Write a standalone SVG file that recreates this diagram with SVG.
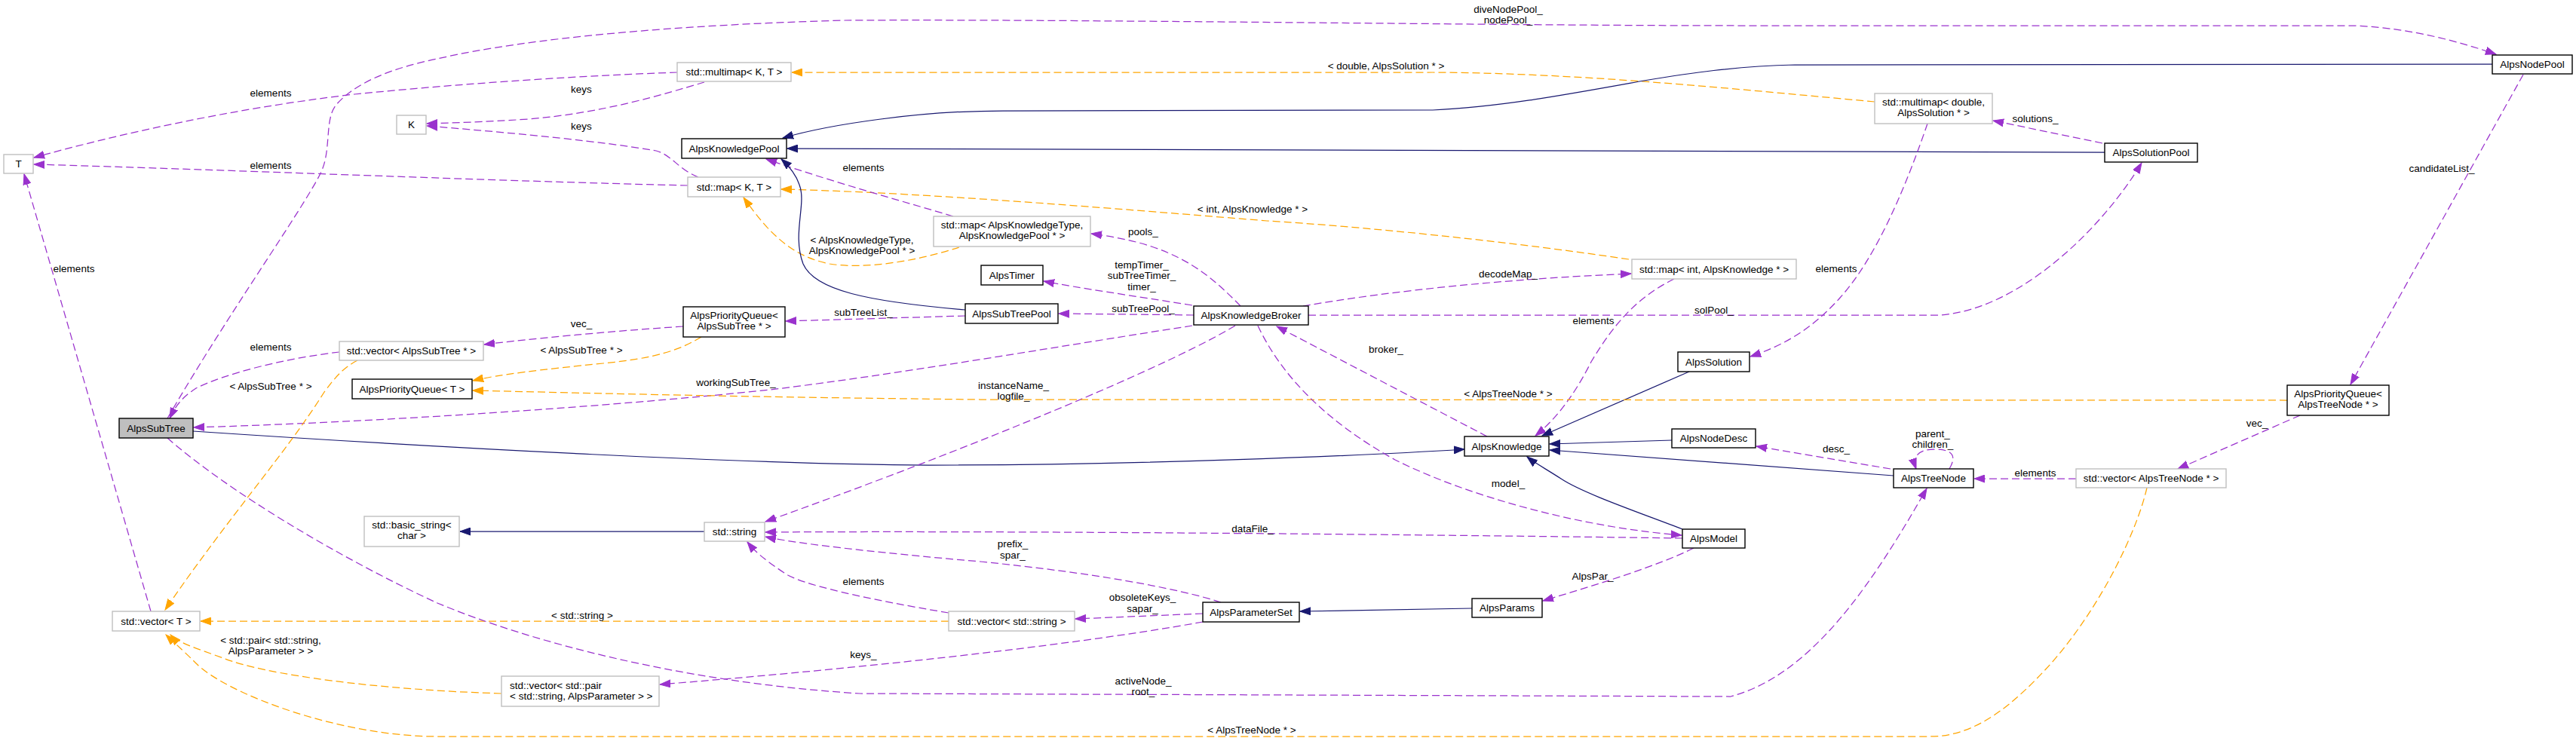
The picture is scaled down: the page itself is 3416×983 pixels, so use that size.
<svg xmlns="http://www.w3.org/2000/svg" width="3416" height="983" viewBox="0 0 3416 983">
<style>
text{font-family:"Liberation Sans",Arial,Helvetica,sans-serif;font-size:13.5px;fill:#000;text-anchor:middle}
.nb rect{fill:#fff;stroke:#000;stroke-width:1.4}
.ng rect{fill:#fff;stroke:#bfbfbf;stroke-width:1.4}
.sel rect{fill:#bfbfbf;stroke:#000;stroke-width:1.4}
#edges path{fill:none;stroke-width:1.25}
#edges .p{stroke:#9a32cd;stroke-dasharray:10,5;marker-end:url(#ap)}
#edges .o{stroke:#ffa500;stroke-dasharray:10,5;marker-end:url(#ao)}
#edges .b{stroke:#191970;marker-end:url(#ab)}
</style>
<defs>
<marker id="ap" markerWidth="15" markerHeight="11" refX="14" refY="5.5" orient="auto" markerUnits="userSpaceOnUse"><path d="M0,0.5 L14,5.5 L0,10.5 z" fill="#9a32cd" stroke="#9a32cd" stroke-width="1"/></marker>
<marker id="ao" markerWidth="15" markerHeight="11" refX="14" refY="5.5" orient="auto" markerUnits="userSpaceOnUse"><path d="M0,0.5 L14,5.5 L0,10.5 z" fill="#ffa500" stroke="#ffa500" stroke-width="1"/></marker>
<marker id="ab" markerWidth="15" markerHeight="11" refX="14" refY="5.5" orient="auto" markerUnits="userSpaceOnUse"><path d="M0,0.5 L14,5.5 L0,10.5 z" fill="#191970" stroke="#191970" stroke-width="1"/></marker>
</defs>
<rect x="0" y="0" width="3416" height="983" fill="#fff"/>

<g id="edges">
<path class="p" d="M898,96 C780,100 620,110 470,125 C300,145 150,180 45,209"/>
<path class="p" d="M912,246 C650,240 300,225 45,218"/>
<path class="p" d="M934,109 C880,125 800,150 700,158 C640,162 600,163 566,164"/>
<path class="p" d="M926,235 C900,225 890,205 870,200 C800,188 700,178 566,167"/>
<path class="o" d="M2486,135 C2300,118 2100,97 1900,96 L1050,96"/>
<path class="o" d="M2160,344 C2000,320 1800,300 1680,293 C1400,270 1200,255 1036,251"/>
<path class="o" d="M1272,328 C1220,345 1150,358 1100,350 C1050,340 1020,310 986,262"/>
<path class="p" d="M1264,287 C1180,262 1100,240 1016,211"/>
<path class="b" d="M1280,411 C1150,400 1080,385 1065,350 C1050,310 1070,270 1060,245 C1055,230 1046,220 1036,211"/>
<path class="b" d="M3305,85 L2380,86 C2300,88 2240,97 2180,107 C2080,125 1990,142 1900,146 L1330,147 C1220,147 1100,165 1038,183"/>
<path class="b" d="M2791,202 L1044,197"/>
<path class="p" d="M2788,190 L2643,160"/>
<path class="p" d="M2556,164 C2530,240 2490,340 2440,395 C2400,440 2360,460 2321,473"/>
<path class="p" d="M1735,418 L2573,418 C2680,410 2790,300 2840,216"/>
<path class="p" d="M222,555 C300,420 400,280 425,230 C440,200 430,160 445,140 C470,110 520,90 580,78 C700,50 900,33 1120,27 C1400,25 2000,34 2300,34 L3124,34 C3200,38 3260,55 3310,72"/>
<path class="p" d="M1581,432 C1400,460 1200,495 1022,517 C800,540 500,560 257,567"/>
<path class="b" d="M256,572 C600,595 1000,616 1231,617 C1500,617 1800,605 1942,596"/>
<path class="p" d="M906,433 C800,440 700,450 642,457"/>
<path class="o" d="M930,447 C900,465 870,475 800,482 C720,490 660,497 627,505"/>
<path class="o" d="M474,478 C455,488 445,500 430,520 C380,600 300,690 219,809"/>
<path class="p" d="M1280,419 L1042,426"/>
<path class="p" d="M1583,418 L1404,416"/>
<path class="p" d="M1581,405 C1500,392 1430,382 1384,373"/>
<path class="p" d="M1645,406 C1610,370 1580,345 1527,327 C1500,318 1470,313 1447,310"/>
<path class="p" d="M1728,406 C1850,385 2000,370 2163,363"/>
<path class="p" d="M2220,370 C2170,395 2140,430 2110,480 C2090,520 2065,555 2036,578"/>
<path class="p" d="M1972,579 L1693,433"/>
<path class="b" d="M2240,493 L2045,578"/>
<path class="b" d="M2217,584 L2055,589"/>
<path class="b" d="M2511,631 L2055,597"/>
<path class="b" d="M2231,702 C2180,682 2100,655 2070,635 C2050,622 2035,614 2025,606"/>
<path class="p" d="M1638,432 C1550,485 1300,590 1015,692"/>
<path class="o" d="M3033,531 L1300,530 C1000,527 800,522 627,518"/>
<path class="p" d="M2231,714 C1800,708 1300,704 1015,706"/>
<path class="p" d="M1668,432 C1700,500 1760,560 1850,610 C1950,660 2100,700 2230,710"/>
<path class="p" d="M1619,799 C1560,780 1450,760 1300,745 C1150,732 1050,720 1015,712"/>
<path class="p" d="M1258,813 C1150,795 1060,775 1040,760 C1010,740 1000,730 991,719"/>
<path class="p" d="M1595,814 L1426,821"/>
<path class="p" d="M1595,825 C1400,860 1100,890 875,908"/>
<path class="o" d="M1258,824 L266,824"/>
<path class="o" d="M665,920 C500,915 350,895 296,873 C260,860 235,852 226,842"/>
<path class="o" d="M2847,647 C2835,700 2790,800 2720,880 C2670,935 2620,977 2560,977 L580,977 C450,977 300,920 260,880 C240,860 228,850 220,842"/>
<path class="p" d="M222,581 C300,650 450,740 580,800 C700,850 900,905 1140,920 L2295,924 C2400,896 2480,780 2555,648"/>
<path class="p" d="M2246,727 C2200,750 2120,775 2046,797"/>
<path class="b" d="M1952,807 L1724,811"/>
<path class="b" d="M934,705 L610,705"/>
<path class="p" d="M2507,622 L2329,592"/>
<path class="p" d="M2585,622 C2595,605 2590,596 2565,596 C2545,596 2535,605 2541,622"/>
<path class="p" d="M2753,635 L2618,635"/>
<path class="p" d="M3050,551 L2888,622"/>
<path class="p" d="M3346,99 L3117,510"/>
<path class="p" d="M200,811 L32,231"/>
<path class="p" d="M450,467 C380,475 300,495 260,515 C240,528 232,540 225,555"/>
</g>

<g id="labels">
<text x="359" y="128">elements</text>
<text x="359" y="224">elements</text>
<text x="771" y="123">keys</text>
<text x="771" y="172">keys</text>
<text x="1838" y="92">&lt; double, AlpsSolution * &gt;</text>
<text x="1661" y="282">&lt; int, AlpsKnowledge * &gt;</text>
<text x="1143" y="323">&lt; AlpsKnowledgeType,<tspan x="1143" dy="14.4">AlpsKnowledgePool * &gt;</tspan></text>
<text x="1145" y="227">elements</text>
<text x="2699" y="162">solutions_</text>
<text x="2435" y="361">elements</text>
<text x="2273" y="416">solPool_</text>
<text x="2000" y="17">diveNodePool_<tspan x="2000" dy="14.4">nodePool_</tspan></text>
<text x="976" y="512">workingSubTree_</text>
<text x="771" y="434">vec_</text>
<text x="771" y="469">&lt; AlpsSubTree * &gt;</text>
<text x="359" y="517">&lt; AlpsSubTree * &gt;</text>
<text x="1145" y="419">subTreeList_</text>
<text x="1516" y="414">subTreePool_</text>
<text x="1514" y="356">tempTimer_<tspan x="1514" dy="14.3">subTreeTimer_</tspan><tspan x="1514" dy="14.3">timer_</tspan></text>
<text x="1516" y="312">pools_</text>
<text x="2000" y="368">decodeMap_</text>
<text x="2113" y="430">elements</text>
<text x="1838" y="468">broker_</text>
<text x="1344" y="516">instanceName_<tspan x="1344" dy="14">logfile_</tspan></text>
<text x="2000" y="527">&lt; AlpsTreeNode * &gt;</text>
<text x="1661" y="706">dataFile_</text>
<text x="2000" y="646">model_</text>
<text x="1343" y="726">prefix_<tspan x="1343" dy="15">spar_</tspan></text>
<text x="1145" y="776">elements</text>
<text x="1515" y="797">obsoleteKeys_<tspan x="1515" dy="15">sapar_</tspan></text>
<text x="1145" y="873">keys_</text>
<text x="772" y="821">&lt; std::string &gt;</text>
<text x="359" y="854">&lt; std::pair&lt; std::string,<tspan x="359" dy="14.4">AlpsParameter &gt; &gt;</tspan></text>
<text x="1660" y="973">&lt; AlpsTreeNode * &gt;</text>
<text x="1516" y="908">activeNode_<tspan x="1516" dy="14">root_</tspan></text>
<text x="2112" y="769">AlpsPar_</text>
<text x="2435" y="600">desc_</text>
<text x="2563" y="580">parent_<tspan x="2563" dy="13.7">children_</tspan></text>
<text x="2699" y="632">elements</text>
<text x="2993" y="566">vec_</text>
<text x="3238" y="228">candidateList_</text>
<text x="98" y="361">elements</text>
<text x="359" y="465">elements</text>
</g>

<g id="n_T" class="ng"><rect x="5" y="205" width="39" height="25"/><text x="24.5" y="222">T</text></g>
<g id="n_K" class="ng"><rect x="526" y="153" width="39" height="25"/><text x="545.5" y="170">K</text></g>
<g id="n_multimapKT" class="ng"><rect x="898" y="83" width="151" height="25"/><text x="973.5" y="100">std::multimap&lt; K, T &gt;</text></g>
<g id="n_KnowledgePool" class="nb"><rect x="904" y="184" width="139" height="26"/><text x="973.5" y="201.7">AlpsKnowledgePool</text></g>
<g id="n_mapKT" class="ng"><rect x="912" y="235" width="123" height="26"/><text x="973.5" y="252.7">std::map&lt; K, T &gt;</text></g>
<g id="n_vecSubTree" class="ng"><rect x="450" y="453" width="191" height="25"/><text x="545.5" y="470">std::vector&lt; AlpsSubTree * &gt;</text></g>
<g id="n_PQSubTree" class="nb"><rect x="906" y="407" width="135" height="40"/><text x="973.5" y="423">AlpsPriorityQueue&lt;<tspan x="973.5" dy="14">AlpsSubTree * &gt;</tspan></text></g>
<g id="n_mapKType" class="ng"><rect x="1238" y="287" width="208" height="40"/><text x="1342" y="303">std::map&lt; AlpsKnowledgeType,<tspan x="1342" dy="14">AlpsKnowledgePool * &gt;</tspan></text></g>
<g id="n_Timer" class="nb"><rect x="1301" y="352" width="82" height="26"/><text x="1342" y="369.7">AlpsTimer</text></g>
<g id="n_SubTreePool" class="nb"><rect x="1280" y="403" width="123" height="26"/><text x="1341.5" y="420.7">AlpsSubTreePool</text></g>
<g id="n_Broker" class="nb"><rect x="1583" y="406" width="152" height="25"/><text x="1659" y="423">AlpsKnowledgeBroker</text></g>
<g id="n_mapInt" class="ng"><rect x="2164" y="344" width="218" height="26"/><text x="2273" y="361.7">std::map&lt; int, AlpsKnowledge * &gt;</text></g>
<g id="n_Solution" class="nb"><rect x="2225" y="467" width="95" height="26"/><text x="2272.5" y="484.7">AlpsSolution</text></g>
<g id="n_multimapDouble" class="ng"><rect x="2486" y="124" width="156" height="40"/><text x="2564" y="140">std::multimap&lt; double,<tspan x="2564" dy="14">AlpsSolution * &gt;</tspan></text></g>
<g id="n_SolutionPool" class="nb"><rect x="2791" y="190" width="123" height="25"/><text x="2852.5" y="207">AlpsSolutionPool</text></g>
<g id="n_NodePool" class="nb"><rect x="3305" y="73" width="106" height="25"/><text x="3358" y="90">AlpsNodePool</text></g>
<g id="n_SubTree" class="sel"><rect x="158" y="555" width="98" height="26"/><text x="207" y="572.7">AlpsSubTree</text></g>
<g id="n_vecT" class="ng"><rect x="149" y="811" width="116" height="26"/><text x="207" y="828.7">std::vector&lt; T &gt;</text></g>
<g id="n_PQT" class="nb"><rect x="467" y="503" width="159" height="26"/><text x="546.5" y="520.7">AlpsPriorityQueue&lt; T &gt;</text></g>
<g id="n_basicString" class="ng"><rect x="483" y="685" width="126" height="40"/><text x="546" y="701">std::basic_string&lt;<tspan x="546" dy="14">char &gt;</tspan></text></g>
<g id="n_string" class="ng"><rect x="934" y="693" width="80" height="25"/><text x="974" y="710">std::string</text></g>
<g id="n_vecPair" class="ng"><rect x="665" y="897" width="209" height="40"/><text x="676" y="913.7" style="text-anchor:start">std::vector&lt; std::pair<tspan x="676" dy="14.3">&lt; std::string, AlpsParameter &gt; &gt;</tspan></text></g>
<g id="n_vecString" class="ng"><rect x="1258" y="811" width="167" height="26"/><text x="1341.5" y="828.7">std::vector&lt; std::string &gt;</text></g>
<g id="n_ParameterSet" class="nb"><rect x="1595" y="799" width="128" height="26"/><text x="1659" y="816.7">AlpsParameterSet</text></g>
<g id="n_Knowledge" class="nb"><rect x="1942" y="579" width="112" height="26"/><text x="1998" y="596.7">AlpsKnowledge</text></g>
<g id="n_Params" class="nb"><rect x="1952" y="794" width="93" height="25"/><text x="1998.5" y="811">AlpsParams</text></g>
<g id="n_Model" class="nb"><rect x="2231" y="702" width="83" height="25"/><text x="2272.5" y="719">AlpsModel</text></g>
<g id="n_NodeDesc" class="nb"><rect x="2217" y="569" width="111" height="25"/><text x="2272.5" y="586">AlpsNodeDesc</text></g>
<g id="n_TreeNode" class="nb"><rect x="2511" y="622" width="106" height="25"/><text x="2564" y="639">AlpsTreeNode</text></g>
<g id="n_vecTreeNode" class="ng"><rect x="2753" y="622" width="199" height="25"/><text x="2852.5" y="639">std::vector&lt; AlpsTreeNode * &gt;</text></g>
<g id="n_PQTreeNode" class="nb"><rect x="3033" y="511" width="135" height="40"/><text x="3100.5" y="527">AlpsPriorityQueue&lt;<tspan x="3100.5" dy="14">AlpsTreeNode * &gt;</tspan></text></g>
</svg>
